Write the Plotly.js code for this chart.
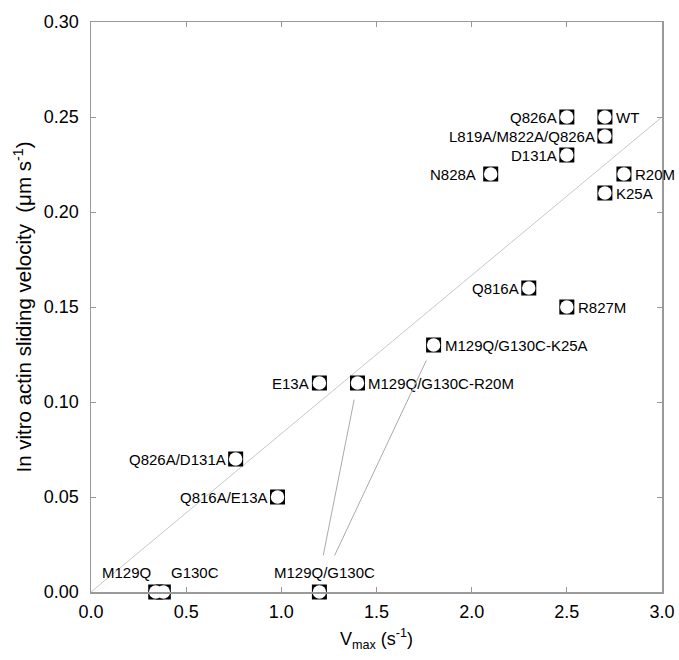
<!DOCTYPE html>
<html>
<head>
<meta charset="utf-8">
<script src="https://cdn.plot.ly/plotly-3.0.1.min.js"></script>
<style>html,body{margin:0;padding:0;background:#fff}#chart{width:679px;height:660px}</style>
</head>
<body>
<div id="chart"></div>
<script>
// Data
const labels = ["WT","Q826A","L819A/M822A/Q826A","D131A","N828A","R20M","K25A",
  "Q816A","R827M","M129Q/G130C-K25A","E13A","M129Q/G130C-R20M",
  "Q826A/D131A","Q816A/E13A","M129Q","G130C","M129Q/G130C"];
const vmax = [2.7,2.5,2.7,2.5,2.1,2.8,2.7,2.3,2.5,1.8,1.2,1.4,0.76,0.98,0.34,0.38,1.2];
const velocity = [0.25,0.25,0.24,0.23,0.22,0.22,0.21,0.16,0.15,0.13,0.11,0.11,0.07,0.05,0,0,0];
// label placement (style)
const labelSide = ["right","left","left","left","left","right","right","left","right","right","left","right","left","left","aboveLeft","aboveRight","above"];
// fit line
const fitX = [0, 3.0];
const fitY = [0, 0.25];
// leader lines: from label of "M129Q/G130C" to these points
const leaderFrom = "M129Q/G130C";
const leaderTo = ["M129Q/G130C-R20M","M129Q/G130C-K25A"];

const font = "Liberation Sans, Arial, sans-serif";
const traces = [
  {x: fitX, y: fitY, mode: "lines", line: {color: "#c8c8c8", width: 1}, hoverinfo: "skip"},
  {x: vmax, y: velocity, mode: "markers", marker: {symbol: "square", size: 15, color: "#000", line: {width: 0}}, cliponaxis: false},
  {x: vmax, y: velocity, mode: "markers", marker: {symbol: "circle", size: 13.5, color: "#fff", line: {width: 0}}, cliponaxis: false}
];

const annotations = labels.map((t, i) => {
  const a = {x: vmax[i], y: velocity[i], text: t, showarrow: false, font: {family: font, size: 15, color: "#000"}, borderpad: 0};
  const s = labelSide[i];
  if (s === "right") { a.xanchor = "left"; a.xshift = 10; }
  else if (s === "left") { a.xanchor = "right"; a.xshift = (t === "N828A") ? -14 : -9; }
  else if (s === "aboveLeft") { a.xanchor = "center"; a.xshift = -29; a.yshift = 20; }
  else if (s === "aboveRight") { a.xanchor = "center"; a.xshift = 32; a.yshift = 20; }
  else { a.xanchor = "center"; a.xshift = 5; a.yshift = 20; }
  return a;
});

// leader lines
const pxX = 3.0 / 571, pxY = 0.30 / 570;
const fi = labels.indexOf(leaderFrom);
const tailOffsets = [[3.5, 35], [14.5, 35]];
leaderTo.forEach((name, k) => {
  const j = labels.indexOf(name);
  annotations.push({
    x: vmax[j], y: velocity[j], xref: "x", yref: "y",
    ax: vmax[fi] + tailOffsets[k][0] * pxX, ay: velocity[fi] + tailOffsets[k][1] * pxY,
    axref: "x", ayref: "y", text: "", showarrow: true, arrowhead: 0,
    arrowwidth: 1, arrowcolor: "#aaa", standoff: 17
  });
});

const axisCommon = {
  showline: true, linecolor: "#999", linewidth: 1.5, mirror: "ticks",
  ticks: "inside", ticklen: 5, tickwidth: 1, tickcolor: "#999",
  showgrid: false, zeroline: false, tickfont: {family: font, size: 18, color: "#000"}
};

const layout = {
  width: 679, height: 660,
  margin: {l: 91, r: 17, t: 22, b: 68},
  paper_bgcolor: "#fff", plot_bgcolor: "#fff",
  showlegend: false,
  font: {family: font, color: "#000"},
  xaxis: Object.assign({}, axisCommon, {
    range: [0, 3.0], dtick: 0.5, tick0: 0, tickformat: ".1f", ticklabelstandoff: 3,
    title: {text: "V<sub>max</sub> (s<sup>-1</sup>)", font: {family: font, size: 18, color: "#000"}, standoff: 11}
  }),
  yaxis: Object.assign({}, axisCommon, {
    range: [0, 0.30], dtick: 0.05, tick0: 0, tickformat: ".2f", ticklabelstandoff: 7,
    title: {text: "In vitro actin sliding velocity  (μm s<sup>-1</sup>)", font: {family: font, size: 20.5, color: "#000"}, standoff: 6}
  }),
  annotations: annotations
};

Plotly.newPlot("chart", traces, layout, {displayModeBar: false, staticPlot: true});
</script>
</body>
</html>
